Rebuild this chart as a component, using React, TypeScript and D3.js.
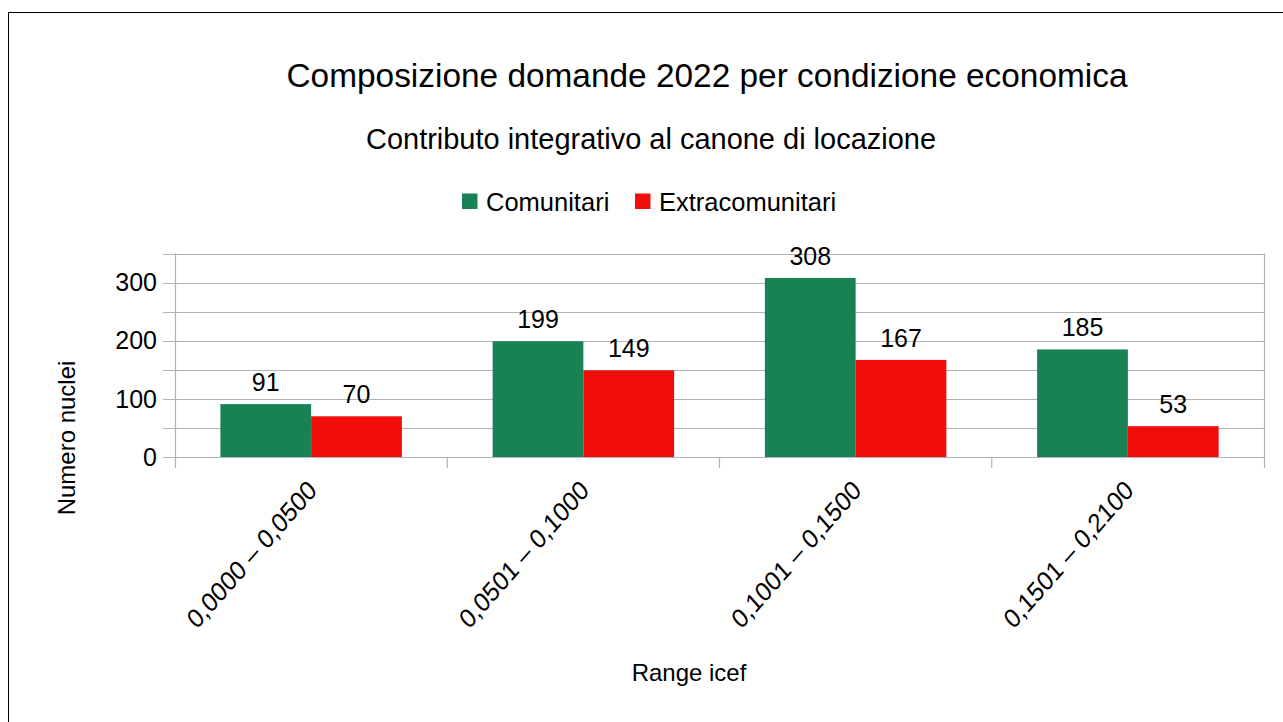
import React from "react";
import * as d3 from "d3";

const categories = ["0,0000 – 0,0500", "0,0501 – 0,1000", "0,1001 – 0,1500", "0,1501 – 0,2100"];
const seriesNames = ["Comunitari", "Extracomunitari"];
const comunitari = [91, 199, 308, 185];
const extracomunitari = [70, 149, 167, 53];
const seriesColors = ["#198255", "#f10d0c"];
const yGridTicks = [0, 50, 100, 150, 200, 250, 300, 350];
const yLabelTicks = [0, 100, 200, 300];

const W = 1283;
const H = 722;
const FONT = "'Liberation Sans', Arial, sans-serif";

export default function App() {
  const left = 175;
  const right = 1264;
  const top = 253.5;
  const bottom = 457;

  const x = d3
    .scaleBand<string>()
    .domain(categories)
    .range([left, right])
    .paddingInner(1 / 3)
    .paddingOuter(1 / 6);
  const x1 = d3.scaleBand<string>().domain(seriesNames).range([0, x.bandwidth()]);
  const y = d3.scaleLinear().domain([0, 350]).range([bottom, top]);
  const step = x.step();
  const series = [comunitari, extracomunitari];
  const gridColor = "#b3b3b3";

  return (
    <svg
      width={W}
      height={H}
      style={{ position: "absolute", left: 0, top: 0, background: "#fff" }}
      fontFamily={FONT}
    >
      <rect x={8.5} y={12.5} width={1400} height={900} fill="#fff" stroke="#000" strokeWidth={1} />

      <text x={707} y={87} textAnchor="middle" fontSize={34} textLength={841} lengthAdjust="spacingAndGlyphs" fill="#000">
        Composizione domande 2022 per condizione economica
      </text>
      <text x={651} y={148.5} textAnchor="middle" fontSize={29} textLength={570} lengthAdjust="spacingAndGlyphs" fill="#000">
        Contributo integrativo al canone di locazione
      </text>

      {/* legend */}
      <rect x={462} y={193.5} width={15.5} height={15.5} fill={seriesColors[0]} />
      <text x={486} y={210.5} fontSize={25.5} fill="#000">{seriesNames[0]}</text>
      <rect x={635} y={193.5} width={15.5} height={15.5} fill={seriesColors[1]} />
      <text x={659} y={210.5} fontSize={25.5} fill="#000">{seriesNames[1]}</text>

      {/* grid */}
      {yGridTicks.map((t) => (
        <line key={"g" + t} x1={163} x2={right} y1={Math.round(y(t)) + 0.5} y2={Math.round(y(t)) + 0.5} stroke={gridColor} strokeWidth={1.2} />
      ))}
      <line x1={left + 0.5} x2={left + 0.5} y1={top} y2={468} stroke={gridColor} strokeWidth={1.2} />
      <line x1={right + 0.5} x2={right + 0.5} y1={top} y2={468} stroke={gridColor} strokeWidth={1.2} />
      {categories.map((c, i) => {
        const bx = left + step * (i + 1);
        return i < categories.length - 1 ? (
          <line key={"t" + c} x1={bx} x2={bx} y1={bottom} y2={468} stroke={gridColor} strokeWidth={1.2} />
        ) : null;
      })}

      {/* y labels */}
      {yLabelTicks.map((t) => (
        <text key={"yl" + t} x={157} y={y(t)} dy="0.35em" textAnchor="end" fontSize={25} fill="#000">
          {d3.format("d")(t)}
        </text>
      ))}

      {/* bars */}
      {categories.map((c, i) => (
        <g key={"bar" + c}>
          {series.map((s, j) => {
            const bx = (x(c) as number) + (x1(seriesNames[j]) as number);
            const bw = x1.bandwidth();
            return (
              <g key={seriesNames[j]}>
                <rect x={bx} y={y(s[i])} width={bw} height={bottom - y(s[i])} fill={seriesColors[j]} />
                <text x={bx + bw / 2} y={y(s[i]) - 13} textAnchor="middle" fontSize={25} fill="#000">
                  {s[i]}
                </text>
              </g>
            );
          })}
        </g>
      ))}

      {/* x labels */}
      {categories.map((c) => {
        const cx = (x(c) as number) + x.bandwidth() / 2;
        return (
          <text key={"xl" + c} transform={`translate(${cx + 7},${492}) scale(0.88,1) rotate(-45)`} textAnchor="end" fontSize={27} fill="#000">
            {c}
          </text>
        );
      })}

      <text x={689} y={680.5} textAnchor="middle" fontSize={24} fill="#000">Range icef</text>
      <text transform={`translate(75,438) rotate(-90)`} textAnchor="middle" fontSize={24} fill="#000">Numero nuclei</text>
    </svg>
  );
}
